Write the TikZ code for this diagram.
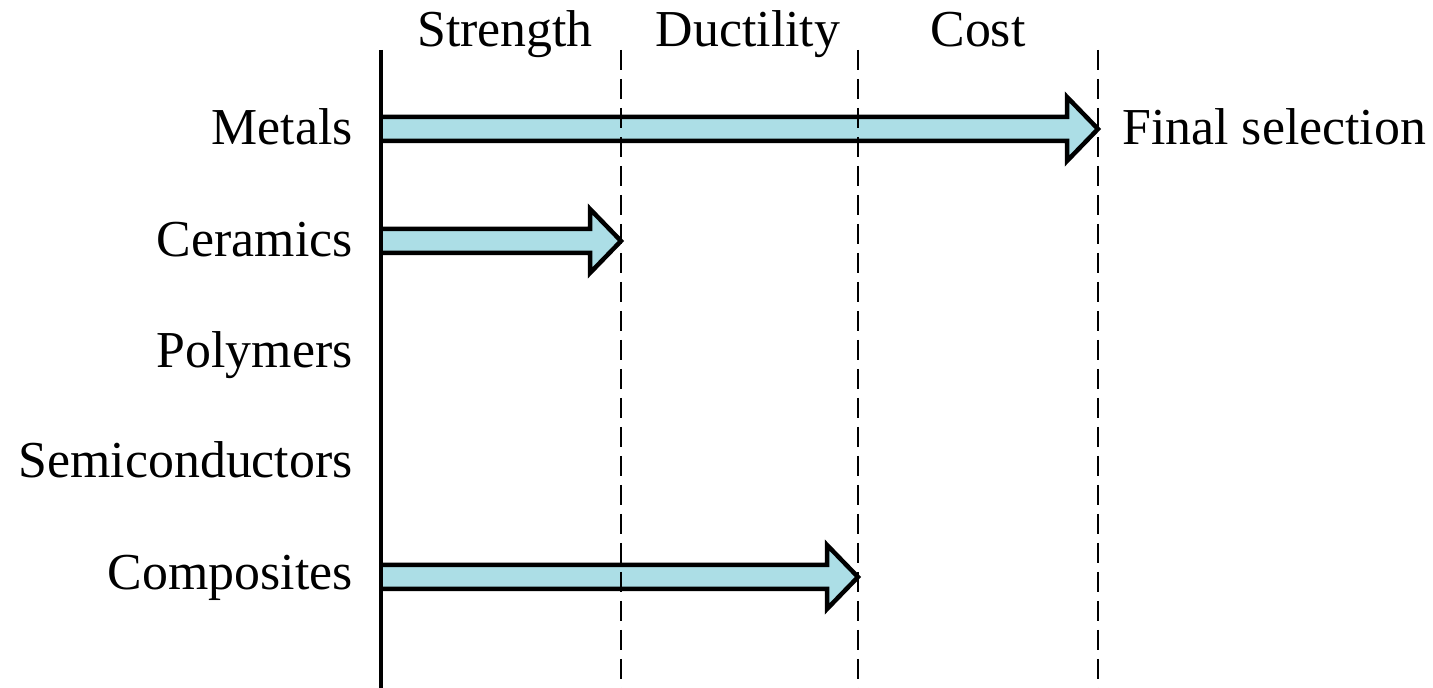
\documentclass[tikz,border=0pt]{standalone}
\usepackage{fontspec}
\setmainfont{Liberation Serif}
\definecolor{arrowfill}{RGB}{172,222,230}
\begin{document}
\begin{tikzpicture}[x=0.02cm,y=-0.02cm,
  lbl/.style={inner sep=0pt,font=\fontsize{29.5}{34}\selectfont},
  fatarrow/.style={draw=black,fill=arrowfill,line width=0.09cm,line join=miter},
  axisline/.style={line width=0.09cm},
  divline/.style={line width=0.04cm,dash pattern=on 0.4cm off 0.18cm}]
\useasboundingbox (0,0) rectangle (1433,688);
% headers
\node[lbl,anchor=base] (hs) at (505,47) {Strength};
\node[lbl,anchor=base] (hd) at (748,47) {Ductility};
\node[lbl,anchor=base] (hc) at (978,47) {Cost};
% row labels
\node[lbl,anchor=base east] (met) at (353,145) {Metals};
\node[lbl,anchor=base east] (cer) at (353,257) {Ceramics};
\node[lbl,anchor=base east] (pol) at (353,368) {Polymers};
\node[lbl,anchor=base east] (sem) at (353,478) {Semiconductors};
\node[lbl,anchor=base east] (com) at (353,590) {Composites};
\node[lbl,anchor=base west] (fin) at (1122,145) {Final selection};
% column coordinates
\coordinate (a0) at (381,50); \coordinate (a1) at (381,688);
\coordinate (d1t) at (621,50); \coordinate (d1b) at (621,688);
\coordinate (d2t) at (858,50); \coordinate (d2b) at (858,688);
\coordinate (d3t) at (1098,50); \coordinate (d3b) at (1098,688);
% arrows
\foreach \yc/\xt in {129/1098, 241/621, 577/858}{
  \pgfmathsetmacro{\xb}{\xt-31}
  \draw[fatarrow] (381,\yc-12) -- (\xb,\yc-12) -- (\xb,\yc-32) -- (\xt,\yc)
     -- (\xb,\yc+32) -- (\xb,\yc+12) -- (381,\yc+12);
}
% lines
\draw[axisline] (a0) -- (a1);
\draw[divline] (d1t) -- (d1b);
\draw[divline] (d2t) -- (d2b);
\draw[divline] (d3t) -- (d3b);
\end{tikzpicture}
\end{document}
